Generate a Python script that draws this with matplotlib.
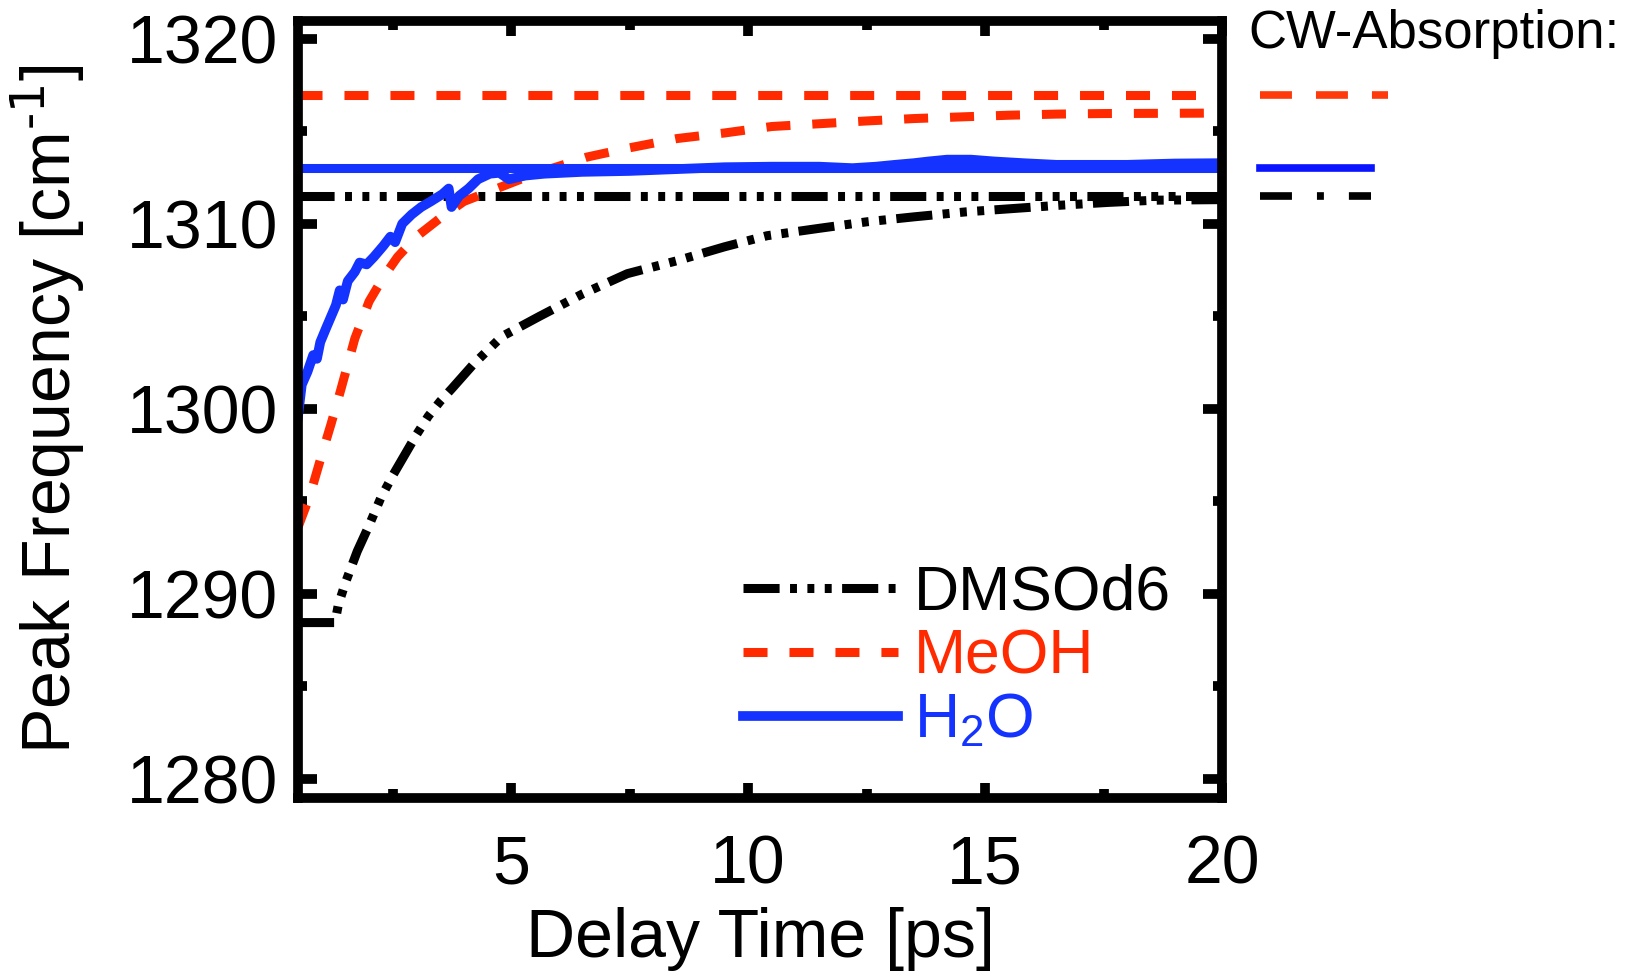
import matplotlib.pyplot as plt

plt.rcParams['font.family'] = ['Liberation Sans', 'DejaVu Sans']
plt.rcParams['mathtext.default'] = 'regular'
plt.rcParams['lines.scale_dashes'] = False

# delay times [ps] and peak frequencies [cm-1]
t_dmso = [0.5, 1.28, 1.35, 1.5, 1.75, 2.0, 2.25, 2.5, 2.75, 3.0, 3.25, 3.5, 3.75,
          4.2, 4.8, 5.6, 6.5, 7.45, 8.5, 9.5, 10.4, 11.5, 12.5, 13.5, 14.6,
          15.6, 16.6, 17.6, 18.6, 20.0]
f_dmso = [1288.45, 1288.45, 1289.4, 1290.6, 1292.3, 1293.7, 1295.2, 1296.4,
          1297.5, 1298.6, 1299.6, 1300.4, 1301.1, 1302.4, 1303.9, 1305.0,
          1306.2, 1307.3, 1308.0, 1308.75, 1309.35, 1309.75, 1310.1, 1310.37,
          1310.64, 1310.82, 1311.0, 1311.15, 1311.27, 1311.3]

t_meoh = [0.5, 0.75, 1.0, 1.2, 1.4, 1.7, 2.0, 2.3, 2.6, 3.0, 3.5, 4.0, 4.5, 5.0,
          5.5, 6.0, 6.6, 7.5, 8.5, 9.5, 10.5, 11.5, 12.5, 13.5, 14.5, 15.5,
          16.5, 17.5, 18.5, 19.5, 20.0]
f_meoh = [1293.6, 1295.3, 1297.5, 1299.2, 1301.0, 1303.8, 1305.8, 1307.1,
          1308.2, 1309.3, 1310.3, 1311.2, 1311.7, 1312.2, 1312.7, 1313.1,
          1313.6, 1314.1, 1314.6, 1314.9, 1315.25, 1315.4, 1315.55, 1315.68,
          1315.77, 1315.86, 1315.92, 1315.95, 1315.96, 1315.97, 1315.98]

t_h2o = [0.5, 0.58, 0.7, 0.82, 0.9, 0.97, 1.1, 1.2, 1.3, 1.38, 1.45, 1.55, 1.7,
         1.8, 1.95, 2.1, 2.3, 2.45, 2.55, 2.7, 2.9, 3.1, 3.3, 3.55, 3.68, 3.74,
         3.9, 4.1, 4.3, 4.55, 4.75, 4.95, 5.3, 5.7, 6.5, 7.5, 8.5, 9.5, 10.5,
         11.5, 12.2, 12.7, 13.1, 13.5, 13.8, 14.2, 14.7, 15.2, 15.8, 16.5,
         18.0, 19.0, 20.0]
f_h2o = [1299.6, 1301.3, 1302.0, 1302.9, 1302.7, 1303.6, 1304.4, 1305.0,
         1305.6, 1306.4, 1305.9, 1306.9, 1307.4, 1307.9, 1307.8, 1308.2,
         1308.8, 1309.3, 1309.0, 1310.0, 1310.5, 1310.9, 1311.2, 1311.6,
         1311.9, 1310.9, 1311.5, 1311.9, 1312.4, 1312.7, 1312.75, 1312.4,
         1312.6, 1312.7, 1312.8, 1312.85, 1312.95, 1313.05, 1313.08, 1313.08,
         1313.0, 1313.08, 1313.18, 1313.27, 1313.36, 1313.46, 1313.46, 1313.36,
         1313.27, 1313.18, 1313.18, 1313.25, 1313.27]

# CW absorption peak positions
cw_dmso = 1311.5
cw_meoh = 1316.95
cw_h2o = 1313.0

red = '#ff2a00'
blue = '#1433ff'
dmso_style = (0, (26, 7.5, 5, 7.5, 5, 7.5, 5, 7.5))
meoh_style = (0, (17.3, 15.8))

fig = plt.figure(figsize=(16.39, 9.72), dpi=100)
ax = fig.add_axes([298 / 1639, 1 - 797.5 / 972, 924 / 1639, 776.5 / 972])

ax.axhline(cw_dmso, color='black', lw=6.5, ls=dmso_style, dash_capstyle='butt')
ax.plot(t_dmso, f_dmso, color='black', lw=6.5, ls=dmso_style,
        dash_capstyle='butt', label='DMSOd6')
ax.axhline(cw_meoh, color=red, lw=6.5, ls=meoh_style, dash_capstyle='butt')
ax.plot(t_meoh, f_meoh, color=red, lw=6.5, ls=meoh_style,
        dash_capstyle='butt', label='MeOH')
ax.axhline(cw_h2o, color=blue, lw=6.5)
ax.plot(t_h2o, f_h2o, color=blue, lw=7, label='H$_2$O')

# CW-Absorption key drawn just right of the axes
ax.plot([20.8, 23.5], [cw_meoh, cw_meoh], color='#ff3a0a', lw=5.5,
        ls=(0, (23, 17.3)), dash_capstyle='butt', clip_on=False)
ax.plot([20.8, 23.15], [cw_h2o, cw_h2o], color='#0a14ff', lw=5.5, clip_on=False)
ax.plot([20.8, 23.15], [cw_dmso, cw_dmso], color='black', lw=5.5,
        ls=(0, (23, 18, 5, 18)), dash_capstyle='butt', clip_on=False)
fig.text(1248 / 1639, 1 - 48 / 972, 'CW-Absorption:', fontsize=38,
         va='baseline', ha='left')

ax.set_xlim(0.5, 20)
ax.set_ylim(1279.0, 1320.95)
ax.set_xticks([5, 10, 15, 20])
ax.set_xticks([2.5, 7.5, 12.5, 17.5], minor=True)
ax.set_yticks([1280, 1290, 1300, 1310, 1320])
ax.set_yticks([1285, 1295, 1305, 1315], minor=True)

for s in ax.spines.values():
    s.set_linewidth(7)
ax.tick_params(which='both', direction='in', top=True, right=True, width=7,
               labelsize=49)
ax.tick_params(axis='x', which='major', length=11, pad=26)
ax.tick_params(axis='x', which='minor', length=6.5)
ax.tick_params(axis='y', which='major', length=13.5, pad=14.5)
ax.tick_params(axis='y', which='minor', length=6.5)

ax.set_xlabel('Delay Time [ps]', fontsize=49)
ax.xaxis.set_label_coords(0.5, -0.141)
ax.set_ylabel(r'Peak Frequency [cm$^{\text{-1}}$]', fontsize=49)
ax.yaxis.set_label_coords(-0.2284, 0.5)

ax.legend(loc='center left', bbox_to_anchor=(0.4816, 0.181), frameon=False,
          fontsize=45, handlelength=2.48, handletextpad=0.25, labelspacing=0.08,
          borderpad=0, borderaxespad=0, labelcolor='linecolor')

fig.savefig('out.png', dpi=100)
